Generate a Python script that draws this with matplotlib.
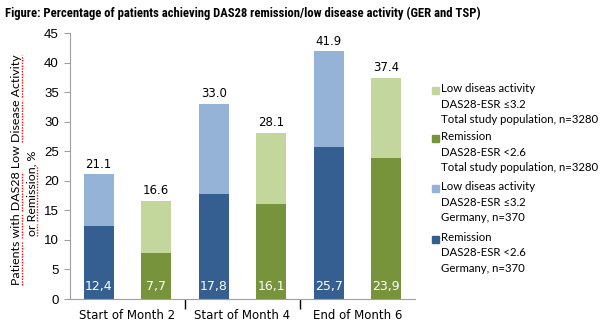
import matplotlib
matplotlib.use("Agg")
import matplotlib.pyplot as plt
from matplotlib import font_manager
from matplotlib.font_manager import FontProperties
from matplotlib.patches import Rectangle
from matplotlib.lines import Line2D
import numpy as np

# data
groups = ["Start of Month 2", "Start of Month 4", "End of Month 6"]
ger_remission = [12.4, 17.8, 25.7]
ger_total = [21.1, 33.0, 41.9]
tsp_remission = [7.7, 16.1, 23.9]
tsp_total = [16.6, 28.1, 37.4]

legend_labels = [
    "Low diseas activity\nDAS28-ESR \u22643.2\nTotal study population, n=3280",
    "Remission\nDAS28-ESR <2.6\nTotal study population, n=3280",
    "Low diseas activity\nDAS28-ESR \u22643.2\nGermany, n=370",
    "Remission\nDAS28-ESR <2.6\nGermany, n=370",
]

c_ger_dark = "#365F91"
c_ger_light = "#95B3D7"
c_tsp_dark = "#77933C"
c_tsp_light = "#C3D69B"
legend_colors = [c_tsp_light, c_tsp_dark, c_ger_light, c_ger_dark]

installed = {f.name for f in font_manager.fontManager.ttflist}
narrow = "Liberation Sans"
for cand in ["Liberation Sans Narrow", "Roboto Condensed", "DejaVu Sans Condensed",
             "Open Sans Condensed", "Noto Sans Condensed"]:
    if cand in installed:
        narrow = cand
        break
body = "Lato" if "Lato" in installed else "DejaVu Sans"
plt.rcParams["font.family"] = [body, "DejaVu Sans"]

W, H = 605, 324
fig = plt.figure(figsize=(W / 100, H / 100), dpi=100)
renderer = fig.canvas.get_renderer()


def fit_size(s, family, width_px, weight="normal"):
    # font size (pt) that makes s about width_px wide
    prop = FontProperties(family=family, weight=weight, size=10)
    w, _, _ = renderer.get_text_width_height_descent(s, prop, ismath=False)
    return 10 * width_px / w


ax = fig.add_axes([70 / W, 1 - 299 / H, 345 / W, 266 / H])

x = np.arange(len(groups))
off = 0.25
bw = 0.26

ger_low = [t - r for t, r in zip(ger_total, ger_remission)]
tsp_low = [t - r for t, r in zip(tsp_total, tsp_remission)]

ax.bar(x - off, ger_remission, bw, color=c_ger_dark)
ax.bar(x - off, ger_low, bw, bottom=ger_remission, color=c_ger_light)
ax.bar(x + off, tsp_remission, bw, color=c_tsp_dark)
ax.bar(x + off, tsp_low, bw, bottom=tsp_remission, color=c_tsp_light)

for xs, rem, tot in [(x - off, ger_remission, ger_total), (x + off, tsp_remission, tsp_total)]:
    for xi, r, t in zip(xs, rem, tot):
        ax.text(xi, 1.0, f"{r:.1f}".replace(".", ","), ha="center", va="bottom",
                color="white", fontsize=9, family="DejaVu Sans")
        ax.text(xi, t + 0.6, f"{t:.1f}", ha="center", va="bottom",
                color="black", fontsize=8.5, family="DejaVu Sans")

ax.set_xlim(-0.5, 2.5)
ax.set_ylim(0, 45)
ax.set_yticks(np.arange(0, 46, 5))
ax.set_xticks(x)
ax.set_xticklabels(groups, fontsize=8.5, family="DejaVu Sans")
ax.set_xticks([0.5, 1.5], minor=True)
ax.tick_params(axis="x", which="major", length=0, pad=7)
ax.tick_params(axis="x", which="minor", length=7, width=1, color="black", direction="out")
ax.tick_params(axis="y", length=4, color="#A0A0A0", labelsize=9.5, pad=4)
for lab in ax.get_yticklabels():
    lab.set_family("Liberation Sans")

for s in ["top", "right"]:
    ax.spines[s].set_visible(False)
ax.spines["left"].set_color("#A0A0A0")
ax.spines["bottom"].set_color("#A0A0A0")

title = "Figure: Percentage of patients achieving DAS28 remission/low disease activity (GER and TSP)"
fig.text(5 / W, 1 - 13 / H, title, ha="left", va="center",
         fontsize=min(11, fit_size(title, narrow, 478, "bold")), fontweight="bold", family=narrow)

# axis title, two lines with spell-check underlines
line1 = "Patients with DAS28 Low Disease Activity"
line2 = "or Remission, %"
ylab_size = fit_size(line1, body, 231)
t1 = fig.text(17 / W, 1 - 170 / H, line1, rotation=90, ha="center", va="center", fontsize=ylab_size)
t2 = fig.text(32 / W, 1 - 193 / H, line2, rotation=90, ha="center", va="center", fontsize=ylab_size)

# legend
leg_size = fit_size("Total study population, n=3280", body, 158)
item_y = [90, 138, 188, 239]
for yy, col, lab in zip(item_y, legend_colors, legend_labels):
    fig.patches.append(Rectangle((432 / W, 1 - (yy + 3.5) / H), 7 / W, 7 / H,
                                 transform=fig.transFigure, color=col, figure=fig))
    fig.text(441 / W, 1 - (yy - 7) / H, lab, ha="left", va="top", fontsize=leg_size,
             linespacing=1.5)

fig.canvas.draw()


def underline(txt, words):
    bb = txt.get_window_extent(renderer)
    prop = txt.get_fontproperties()
    s = txt.get_text()
    _, _, desc = renderer.get_text_width_height_descent(s, prop, ismath=False)
    xline = bb.x1 - desc + 1.0
    for w in words:
        i = s.index(w)
        a = renderer.get_text_width_height_descent(s[:i], prop, ismath=False)[0] if i else 0
        b = renderer.get_text_width_height_descent(s[:i + len(w)], prop, ismath=False)[0]
        fig.lines.append(Line2D([xline, xline], [bb.y0 + a, bb.y0 + b], transform=None,
                                color="red", linestyle=(0, (1, 1)), linewidth=1.0, figure=fig))


underline(t1, ["Patients", "with", "DAS28", "Disease", "Activity"])
underline(t2, ["or", "Remission"])

fig.savefig("out.png", dpi=100)
